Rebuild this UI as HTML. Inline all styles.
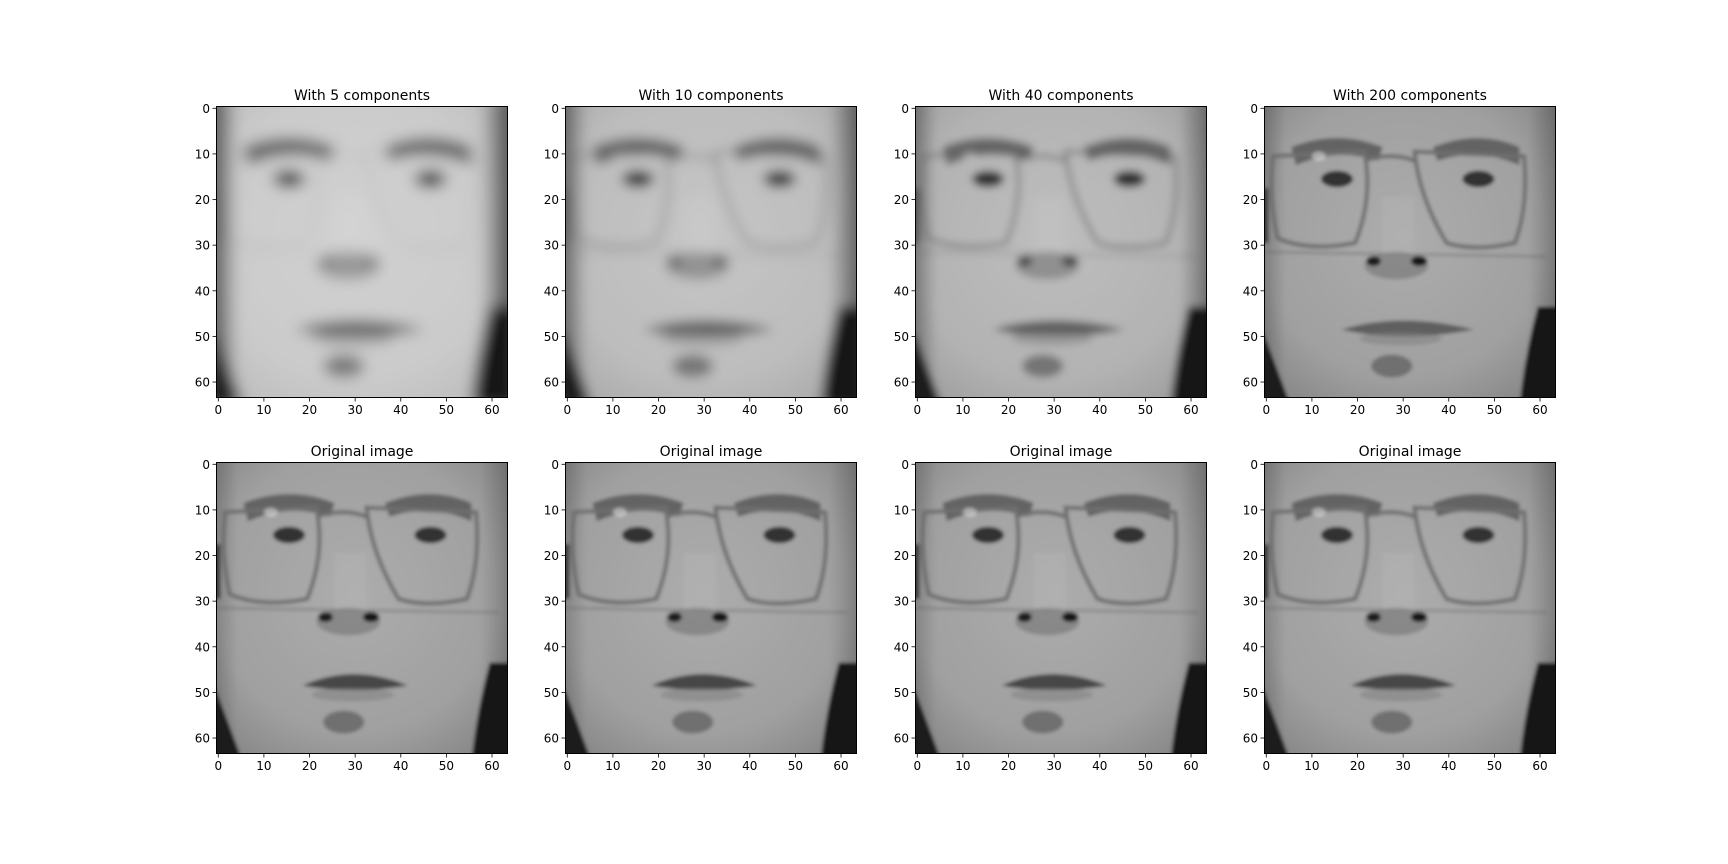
<!DOCTYPE html>
<html><head><meta charset="utf-8">
<style>
html,body{margin:0;padding:0;background:#fff;}
#fig{position:relative;width:1728px;height:864px;overflow:hidden;font-family:"DejaVu Sans","Liberation Sans",sans-serif;}
</style></head>
<body>
<div id="fig"></div>
<script>
const components = [5, 10, 40, 200];
const blurLevels = [1.6, 1.3, 0.9, 0.4];
const brightLevels = [0.45, 0.3, 0.2, 0];
const glassLevels = [0.1, 0.5, 0.7, 1];
const tickValues = [0, 10, 20, 30, 40, 50, 60];
const tickLabels = ["0","10","20","30","40","50","60"];
const colLefts = [216, 565, 915, 1264];
const rowTops = [106, 462];
const SIZE = 292;
const NS = "http://www.w3.org/2000/svg";
const fig = document.getElementById('fig');

function faceSVG(idx, id){
  const orig = idx < 0;
  const blur = orig ? 0.4 : blurLevels[idx];
  const br = orig ? 0 : brightLevels[idx];
  const gl = orig ? 1 : glassLevels[idx];
  const q = orig ? 1 : [0.3,0.5,0.75,1][idx];
  const side = orig ? 0.25 : [0.75,0.6,0.45,0.3][idx];
  const L = v => { const x = Math.round(Math.min(255, v + br * (255 - v))); return `rgb(${x},${x},${x})`; };
  const D = v => `rgb(${v},${v},${v})`;
  return `
  <defs>
    <filter id="b${id}" x="-10%" y="-10%" width="120%" height="120%"><feGaussianBlur stdDeviation="${blur}"/></filter>
    <radialGradient id="g${id}" cx="0.48" cy="0.45" r="0.65">
      <stop offset="0" stop-color="${L(172)}"/>
      <stop offset="0.7" stop-color="${L(160)}"/>
      <stop offset="1" stop-color="${L(135)}"/>
    </radialGradient>
    <linearGradient id="s${id}" x1="0" x2="1" y1="0" y2="0">
      <stop offset="0" stop-color="#000" stop-opacity="${side}"/>
      <stop offset="0.1" stop-color="#000" stop-opacity="0"/>
      <stop offset="0.88" stop-color="#000" stop-opacity="0"/>
      <stop offset="1" stop-color="#000" stop-opacity="${side}"/>
    </linearGradient>
  </defs>
  <rect x="0" y="0" width="64" height="64" fill="${L(165)}"/>
  <g filter="url(#b${id})">
    <rect x="-2" y="-2" width="68" height="68" fill="url(#g${id})"/>
    <rect x="-2" y="-2" width="68" height="68" fill="url(#s${id})"/>
    <path d="M-2,50 L0,50 Q3,58 6,66 L-2,66Z" fill="${D(28)}"/>
    <path d="M66,44 L60,44 Q57,55 56,66 L66,66Z" fill="${D(25)}"/>
    <rect x="-2" y="18" width="3" height="12" fill="${D(60)}" opacity="${q}"/>
    <path d="M6,9 Q16,5 26,9 L25,12 Q16,9 7,13Z" fill="${D(100)}"/>
    <path d="M37,9 Q47,5 56,9 L56,13 Q47,9 38,12Z" fill="${D(100)}"/>
    <ellipse cx="16" cy="16" rx="3.5" ry="1.8" fill="${D(50)}"/>
    <ellipse cx="47" cy="16" rx="3.5" ry="1.8" fill="${D(50)}"/>
    <g opacity="${gl}" fill="none" stroke="${D(110)}" stroke-width="0.9">
      <path d="M2,11 L22,10 Q24,20 20,30 Q10,32 3,29 Q1,20 2,11Z"/>
      <path d="M33,10 L57,11 Q58,22 55,30 Q46,32 40,30 Q34,20 33,10Z"/>
      <path d="M22,12 Q28,10 33,12"/>
      <path d="M0,32 L62,33" stroke-width="0.6" opacity="0.5"/>
    </g>
    <ellipse cx="12" cy="11" rx="1.5" ry="1" fill="#eee" opacity="${0.5*gl}"/>
    <rect x="26" y="20" width="7" height="13" fill="${L(180)}" opacity="0.5"/>
    <ellipse cx="29" cy="35" rx="7" ry="3" fill="${D(115)}" opacity="0.6"/>
    <ellipse cx="24" cy="34" rx="1.6" ry="1.1" fill="${D(30)}" opacity="${q}"/>
    <ellipse cx="34" cy="34" rx="1.8" ry="1.1" fill="${D(25)}" opacity="${q}"/>
    <path d="M${orig?19:17},49 Q30,${orig?44:45} ${orig?42:46},49 Q30,${orig?51:52} ${orig?19:17},49Z" fill="${D(orig?70:95)}"/>
    <ellipse cx="30" cy="51" rx="9" ry="1.5" fill="${D(125)}" opacity="0.5"/>
    <ellipse cx="28" cy="57" rx="4.5" ry="2.5" fill="${D(100)}" opacity="0.8"/>
  </g>`;
}

function el(tag, attrs, parent){
  const e = document.createElementNS(NS, tag);
  for (const a in attrs) e.setAttribute(a, attrs[a]);
  parent.appendChild(e);
  return e;
}

const svg = el('svg', {width:1728, height:864, viewBox:'0 0 1728 864'}, fig);



const pos = v => (v + 0.5) / 64 * SIZE;
let id = 0;
rowTops.forEach((top, r) => {
  colLefts.forEach((left, ci) => {
    const g = el('g', {}, svg);
    
    
    const inner = el('svg', {x:left, y:top, width:SIZE, height:SIZE, viewBox:'0 0 64 64', preserveAspectRatio:'none'}, g);
    inner.innerHTML = faceSVG(r === 0 ? ci : -1, id++);
    el('rect', {x:left+0.5, y:top+0.5, width:SIZE-1, height:SIZE-1, fill:'none', stroke:'#000', 'stroke-width':1}, g);
    const title = el('text', {x:left+SIZE/2, y:top-6, 'text-anchor':'middle', 'font-size':'14', fill:'#000'}, g);
    title.textContent = r === 0 ? `With ${components[ci]} components` : 'Original image';
    
    
    tickValues.forEach((v, i) => {
      const y = top + pos(v);
      el('line', {x1:left, x2:left-3.5, y1:y, y2:y, stroke:'#000', 'stroke-width':0.8}, g);
      const ty = el('text', {x:left-6, y:y+4.5, 'text-anchor':'end', 'font-size':'12', fill:'#000'}, g);
      ty.textContent = tickLabels[i];
      
      
      const x = left + pos(v);
      el('line', {x1:x, x2:x, y1:top+SIZE, y2:top+SIZE+3.5, stroke:'#000', 'stroke-width':0.8}, g);
      const tx = el('text', {x:x, y:top+SIZE+16, 'text-anchor':'middle', 'font-size':'12', fill:'#000'}, g);
      tx.textContent = tickLabels[i];
      
      
    });
  });
});
</script>
</body></html>
